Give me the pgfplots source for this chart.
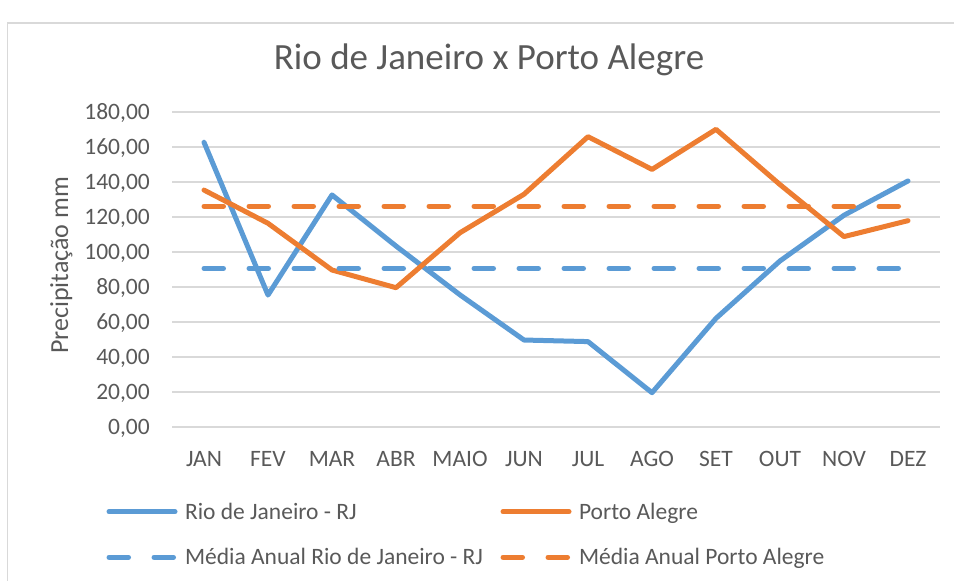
\documentclass[border=0pt]{standalone}
\usepackage{fontspec}
\setmainfont{Carlito}
\usepackage{pgfplots}
\pgfplotsset{compat=1.18}
\usepackage{pgfplotstable}
\definecolor{rjblue}{HTML}{5B9BD5}
\definecolor{paorange}{HTML}{ED7D31}
\definecolor{txtgray}{HTML}{595959}
\definecolor{gridgray}{HTML}{D9D9D9}

\pgfplotstableread{
x rj pa mrj mpa
0 162.7 135.4 90.6 126.2
1 75.4 116.4 90.6 126.2
2 132.6 89.7 90.6 126.2
3 103.4 79.6 90.6 126.2
4 75.5 111.0 90.6 126.2
5 49.7 133.0 90.6 126.2
6 48.8 165.9 90.6 126.2
7 19.6 147.2 90.6 126.2
8 62.1 170.1 90.6 126.2
9 94.9 138.5 90.6 126.2
10 121.0 108.8 90.6 126.2
11 140.6 117.9 90.6 126.2
}\data

\begin{document}
\begin{tikzpicture}
\useasboundingbox (0,0) rectangle (954bp,581bp);
\draw[gridgray, line width=1.5bp] (7.5bp,0) -- (7.5bp,558bp) -- (954bp,558bp);
\node[anchor=base, text=txtgray, font=\fontsize{37bp}{44bp}\selectfont, inner sep=0pt] at (489bp,511.7bp) {Rio de Janeiro x Porto Alegre};
\node[rotate=90, anchor=base, text=txtgray, font=\fontsize{26bp}{31bp}\selectfont, inner sep=0pt] at (68bp,315.5bp) {Precipitação mm};
\begin{axis}[
  at={(172bp,154bp)}, anchor=south west, scale only axis,
  width=768bp, height=315bp,
  xmin=-0.5, xmax=11.5, ymin=0, ymax=180,
  axis line style={draw=none}, major tick length=0pt,
  ytick={0,20,...,180}, xtick={0,...,11},
  xticklabels={JAN,FEV,MAR,ABR,MAIO,JUN,JUL,AGO,SET,OUT,NOV,DEZ},
  ymajorgrids, major grid style={gridgray, line width=1.5bp},
  tick label style={text=txtgray, font=\fontsize{23.5bp}{28bp}\selectfont, inner sep=0pt},
  yticklabel style={anchor=base east, xshift=-22bp, yshift=-7.4bp},
  xticklabel style={anchor=base, yshift=-39bp},
  /pgf/number format/assume math mode=true,
  yticklabel style={/pgf/number format/.cd, fixed, fixed zerofill, precision=2, use comma, 1000 sep={}},
  legend columns=2,
  legend style={at={(-0.0885,-0.2451)}, anchor=north west, draw=none, fill=none,
    inner sep=0pt, outer sep=0pt, row sep=30.6bp,
    nodes={inner sep=0pt, anchor=west, text height=15bp, text depth=0pt,
      text=txtgray, font=\fontsize{23.5bp}{28bp}\selectfont},
    /tikz/every odd column/.style={column sep=5bp},
    /tikz/every even column/.style={column sep=8bp}},
  legend image code/.code={\path (0bp,0bp) (71bp,0bp); \draw[#1] (2.5bp,0bp) -- (68.5bp,0bp);},
]
\addplot[rjblue, mark=none, line width=5bp, line join=round, line cap=round] table[x=x,y=rj]{\data};
\addlegendentry{\makebox[305bp][l]{Rio de Janeiro - RJ}}
\addplot[paorange, mark=none, line width=5bp, line join=round, line cap=round] table[x=x,y=pa]{\data};
\addlegendentry{\makebox[305bp][l]{Porto Alegre}}
\addplot[rjblue, mark=none, line width=5bp, line cap=round, dash pattern=on 19.5bp off 25.5bp] table[x=x,y=mrj]{\data};
\addlegendentry{\makebox[305bp][l]{Média Anual Rio de Janeiro - RJ}}
\addplot[paorange, mark=none, line width=5bp, line cap=round, dash pattern=on 19.5bp off 25.5bp] table[x=x,y=mpa]{\data};
\addlegendentry{\makebox[305bp][l]{Média Anual Porto Alegre}}
\end{axis}
\end{tikzpicture}
\end{document}
